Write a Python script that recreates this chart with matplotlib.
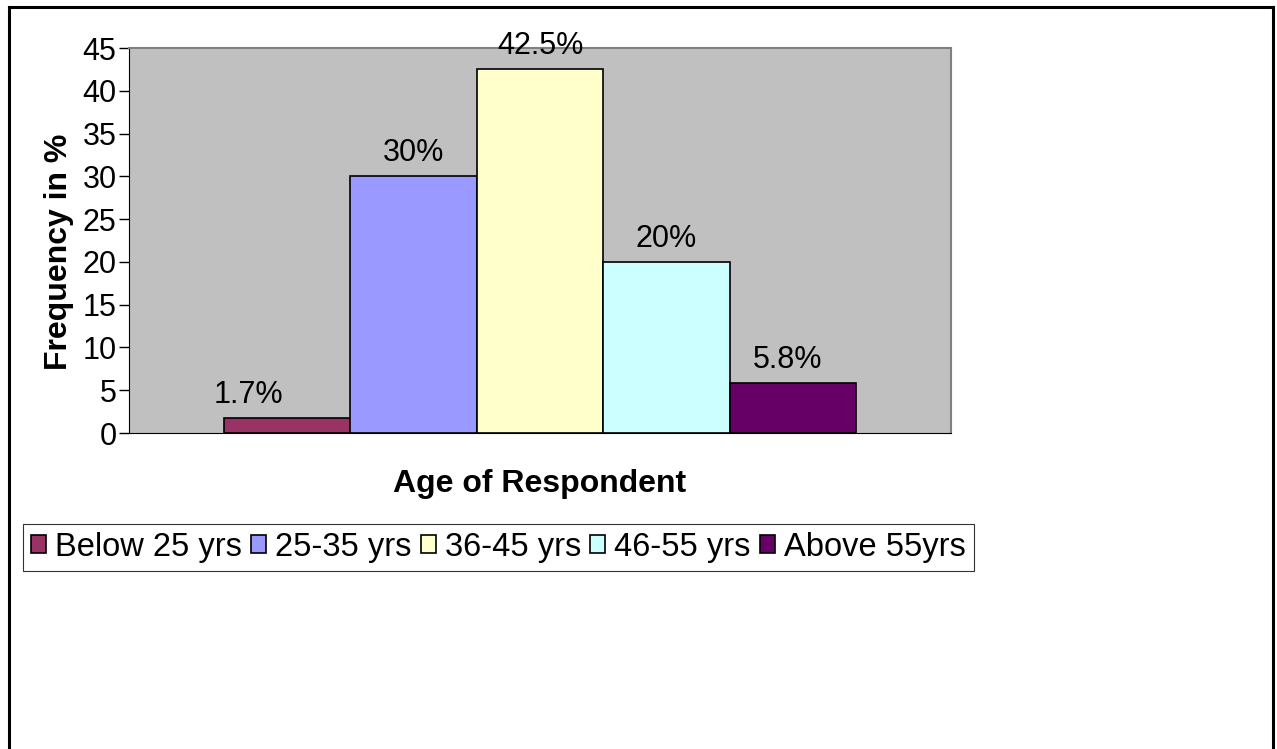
import matplotlib
matplotlib.use("Agg")
import matplotlib.pyplot as plt
from matplotlib.lines import Line2D

plt.rcParams['font.family'] = ['Liberation Sans', 'DejaVu Sans']

# --- dane
groups = ["Below 25 yrs", "25-35 yrs", "36-45 yrs", "46-55 yrs", "Above 55yrs"]
freq = [1.7, 30, 42.5, 20, 5.8]
labels = ["1.7%", "30%", "42.5%", "20%", "5.8%"]
colors = ["#993366", "#9999FF", "#FFFFCC", "#CCFFFF", "#660066"]
yticks = [0, 5, 10, 15, 20, 25, 30, 35, 40, 45]
# przesuniecie etykiet w poziomie (pkt), jak w oryginale
label_dx = [-28, 0, 0, 0, -4]

W, H = 1277, 749
fig = plt.figure(figsize=(W / 100, H / 100), dpi=100)
ax = fig.add_axes([129 / W, 1 - 433 / H, (951 - 129) / W, (433 - 48) / H])
ax.set_facecolor("#C0C0C0")

for i, (g, v, c) in enumerate(zip(groups, freq, colors)):
    ax.bar(i, v, width=1.0, color=c, edgecolor="black", linewidth=1.2, label=g)
    ax.annotate(labels[i], (i, v), xytext=(label_dx[i], 6), textcoords="offset points",
                ha="center", va="bottom", fontsize=22)

ax.set_xlim(-1.25, len(groups) + 0.25)
ax.set_ylim(0, 45)
ax.set_yticks(yticks)
ax.tick_params(axis="y", labelsize=22, length=7, width=1, direction="out", pad=2)
ax.set_xticks([])

for s in ["top", "right"]:
    ax.spines[s].set_color("#808080")
    ax.spines[s].set_linewidth(1.5)
ax.spines["left"].set_color("black")
ax.spines["bottom"].set_color("black")

ax.set_ylabel("Frequency in %", fontsize=23, fontweight="bold")
ax.yaxis.set_label_coords(-0.067, 0.47)
ax.set_xlabel("Age of Respondent", fontsize=23, fontweight="bold", labelpad=26)

# --- legenda
leg = fig.legend(loc="upper left", bbox_to_anchor=(23 / W, 1 - 524 / H), ncol=5,
                 fontsize=23.5, frameon=True, fancybox=False, edgecolor="black",
                 handlelength=0.46, handleheight=0.46, handletextpad=0.28,
                 columnspacing=0.28, borderpad=0.24, borderaxespad=0)
leg.get_frame().set_linewidth(0.8)

# --- ramka wokol calego wykresu
lw = 2.2
x0, x1, y0 = 8.5 / W, 1272.5 / W, 1 - 6.5 / H
fig.add_artist(Line2D([x0, x0], [0, y0], color="black", lw=lw, transform=fig.transFigure))
fig.add_artist(Line2D([x0, x1], [y0, y0], color="black", lw=lw, transform=fig.transFigure))
fig.add_artist(Line2D([x1, x1], [0, y0], color="black", lw=lw, transform=fig.transFigure))

fig.savefig("out.png", dpi=100)
